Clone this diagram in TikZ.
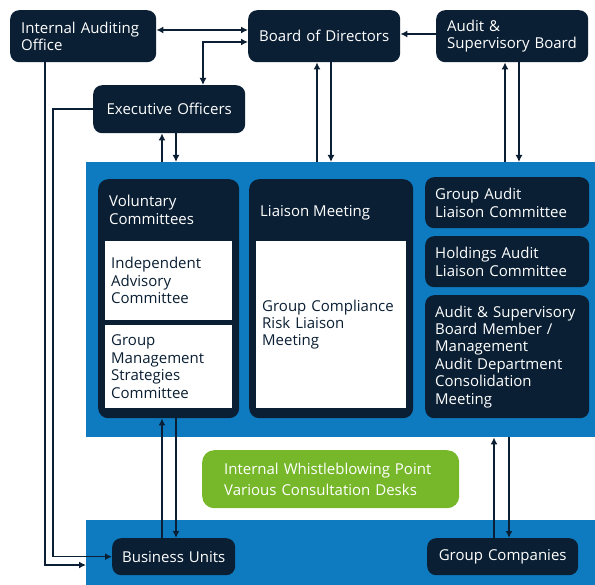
\documentclass[tikz,border=0pt]{standalone}
\usepackage{fontspec}
\setmainfont{Open Sans}
\usetikzlibrary{arrows.meta}
\usetikzlibrary{positioning}
\definecolor{navy}{HTML}{0A1F33}
\definecolor{corpblue}{HTML}{0E7BC0}
\definecolor{leaf}{HTML}{76B82A}
\tikzstyle{unit} = [rectangle, fill=navy, text=white, rounded corners=9pt, align=left, inner xsep=11pt, inner ysep=0pt, anchor=north west, font=\fontsize{15}{17.4}\selectfont]
\tikzstyle{panel} = [rectangle, fill=navy, rounded corners=10pt, anchor=north west, inner sep=0pt]
\tikzstyle{sheet} = [rectangle, fill=white, text=navy, align=left, inner xsep=6pt, inner ysep=0pt, anchor=north west, font=\fontsize{15}{17.4}\selectfont]
\tikzstyle{heading} = [text=white, align=left, anchor=west, inner xsep=11pt, font=\fontsize{15}{17.4}\selectfont]
\tikzstyle{band} = [rectangle, fill=corpblue, anchor=north west, inner sep=0pt]
\tikzstyle{desk} = [rectangle, fill=leaf, text=white, rounded corners=12pt, align=left, inner xsep=22pt, inner ysep=0pt, anchor=north west, font=\fontsize{15}{20.5}\selectfont]
\tikzstyle{link} = [draw=navy, line width=1.5pt, -{Latex[length=7pt, width=7pt]}]
\tikzstyle{twoway} = [draw=navy, line width=1.5pt, {Latex[length=7pt, width=7pt]}-{Latex[length=7pt, width=7pt]}]

\begin{document}
\begin{tikzpicture}[x=1pt,y=-1pt]
	\useasboundingbox (0,0) rectangle (595,585);

	% blue areas
	\node [band, minimum width=509pt, minimum height=275pt] (E) at (86,162) {};
	\node [band, minimum width=509pt, minimum height=65pt] (F) at (86,520) {};

	% top level
	\node [unit, text width=124pt, minimum height=52pt] (A) at (10,10) {Internal Auditing\\Office};
	\node [unit, align=center, inner xsep=4pt, text width=144pt, minimum height=52pt] (B) at (248,10) {Board of Directors};
	\node [unit, text width=130pt, minimum height=52pt] (C) at (436,10) {Audit \&\\Supervisory Board};
	\node [unit, align=center, inner xsep=4pt, text width=144pt, minimum height=48pt] (D) at (93,85) {Executive Officers};

	% committees and meetings
	\node [panel, minimum width=141pt, minimum height=239pt] (G) at (98,179) {};
	\node [heading] (Gt) at ([yshift=-31pt]G.north west) {Voluntary\\Committees};
	\node [sheet, text width=115pt, minimum height=79pt] (H) at (105,241) {Independent\\Advisory\\Committee};
	\node [sheet, text width=115pt, minimum height=83pt] (I) at (105,325) {Group\\Management\\Strategies\\Committee};

	\node [panel, minimum width=164pt, minimum height=239pt] (J) at (249,179) {};
	\node [heading] (Jt) at ([yshift=-34pt]J.north west) {Liaison Meeting};
	\node [sheet, text width=138pt, minimum height=167pt] (K) at (256,241) {Group Compliance\\Risk Liaison\\Meeting};

	\node [unit, inner xsep=10pt, text width=144pt, minimum height=51pt] (L) at (425,177) {Group Audit\\Liaison Committee};
	\node [unit, inner xsep=10pt, text width=144pt, minimum height=51pt] (M) at (425,236) {Holdings Audit\\Liaison Committee};
	\node [unit, inner xsep=10pt, text width=144pt, minimum height=123pt] (N) at (425,295) {Audit \& Supervisory\\Board Member /\\Management\\Audit Department\\Consolidation\\Meeting};

	\node [desk, text width=213pt, minimum height=58pt] (O) at (202,450) {Internal Whistleblowing Point\\Various Consultation Desks};

	% bottom level
	\node [unit, align=center, inner xsep=4pt, text width=115pt, minimum height=37pt] (P) at (112,538) {Business Units};
	\node [unit, align=center, inner xsep=4pt, text width=143pt, minimum height=37pt] (Q) at (427,538) {Group Companies};

	% connections
	\draw[twoway] ([yshift=-20pt]A.north east) -- ([yshift=-20pt]B.north west);
	\draw[link] ([yshift=-24pt]C.north west) -- ([yshift=-24pt]B.north east);
	\draw[twoway] ([xshift=110pt]D.north west) |- ([yshift=-32pt]B.north west);

	\draw[link] ([xshift=76pt]E.north west) -- ([xshift=69pt]D.south west);
	\draw[link] ([xshift=83pt]D.south west) -- ([xshift=90pt]E.north west);
	\draw[link] ([xshift=231pt]E.north west) -- ([xshift=69pt]B.south west);
	\draw[link] ([xshift=83pt]B.south west) -- ([xshift=245pt]E.north west);
	\draw[link] ([xshift=419pt]E.north west) -- ([xshift=69pt]C.south west);
	\draw[link] ([xshift=83pt]C.south west) -- ([xshift=433pt]E.north west);

	\draw[link] ([xshift=35pt]A.south west) |- ([yshift=-45pt]F.north west);
	\draw[link] (D.west) -- ++(-40pt,0) |- (P.west);

	\draw[link] ([xshift=50pt]P.north west) -- ([xshift=64pt]G.south west);
	\draw[link] ([xshift=78pt]G.south west) -- ([xshift=64pt]P.north west);
	\draw[link] ([xshift=67pt]Q.north west) -- ([xshift=408pt]E.south west);
	\draw[link] ([xshift=423pt]E.south west) -- ([xshift=82pt]Q.north west);
\end{tikzpicture}
\end{document}
